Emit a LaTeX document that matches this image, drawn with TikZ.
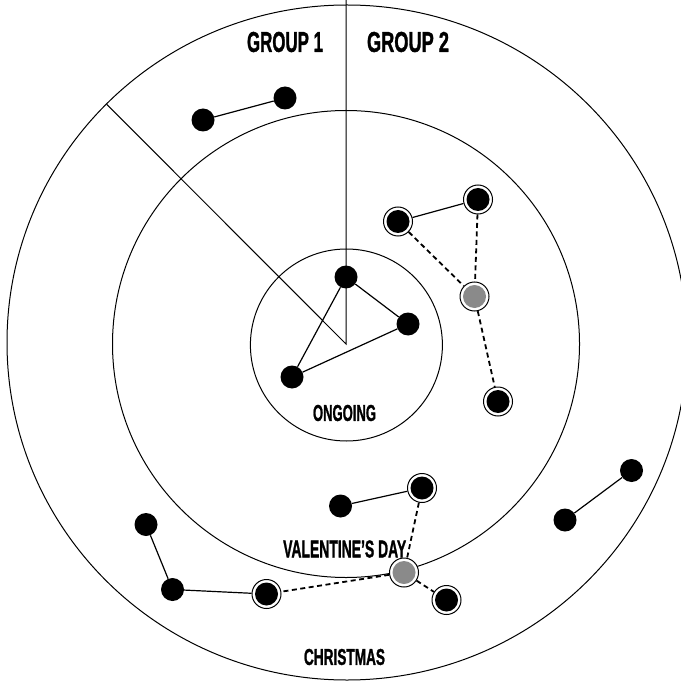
\documentclass[tikz,border=0pt]{standalone}
\usepackage{fontspec}
\setmainfont{Liberation Sans}
\newfontfamily\lblfont[BoldFeatures={FakeBold=1.6}]{Liberation Sans}
\usepackage{graphicx}
\definecolor{dotgrey}{RGB}{138,138,138}
\tikzset{
  ringline/.style={draw=black, line width=1pt},
  dot/.style={circle, fill=black, inner sep=0pt, minimum size=23pt},
  ringdot/.style={circle, draw=black, line width=1pt, fill=white, inner sep=0pt, minimum size=29pt,
    path picture={\fill[#1] (path picture bounding box.center) circle (11.5pt);}},
  ringdot/.default=black,
  link/.style={line width=1.2pt},
  dlink/.style={line width=1.8pt, dash pattern=on 5pt off 3.5pt},
  lbl/.style={inner sep=0pt, font=\lblfont\bfseries},
}
\begin{document}
\begin{tikzpicture}[x=1pt, y=-1pt]
\useasboundingbox (0,0) rectangle (680,684);
% rings
\draw[ringline] (347,342.5) ellipse [x radius=340, y radius=337.5];
\draw[ringline] (346,344) circle [radius=233.5];
\draw[ringline] (346.4,345) circle [radius=96];
% sector lines
\coordinate (ctr) at (346,344);
\coordinate (topend) at (346,0);
\coordinate (diagend) at (106.7,104.3);
\draw[ringline] (topend) -- (ctr) -- (diagend);
% nodes
\node[dot] (A) at (203,120) {};
\node[dot] (B) at (285,98) {};
\node[dot] (C) at (346,277) {};
\node[dot] (D) at (408,324) {};
\node[dot] (E) at (292,377) {};
\node[ringdot] (F) at (398,221.5) {};
\node[ringdot] (G) at (478,199.5) {};
\node[ringdot=dotgrey] (H) at (474.5,296.5) {};
\node[ringdot] (I) at (498,401.5) {};
\node[dot] (J) at (340.5,506) {};
\node[ringdot] (K) at (422,488) {};
\node[ringdot=dotgrey] (L) at (404,572.5) {};
\node[ringdot] (M) at (446.5,600) {};
\node[ringdot] (N) at (266.5,594) {};
\node[dot] (O) at (172.5,589.5) {};
\node[dot] (P) at (146,524.5) {};
\node[dot] (Q) at (565,520) {};
\node[dot] (R) at (631.5,470.5) {};
% connectors
\draw[link] (A) -- (B);
\draw[link] (C) -- (D);
\draw[link] (D) -- (E);
\draw[link] (C) -- (E);
\draw[link] (F) -- (G);
\draw[dlink] (G) -- (H);
\draw[dlink] (F) -- (H);
\draw[dlink] (H) -- (I);
\draw[link] (J) -- (K);
\draw[dlink] (K) -- (L);
\draw[dlink] (L) -- (M);
\draw[dlink] (L) -- (N);
\draw[link] (N) -- (O);
\draw[link] (O) -- (P);
\draw[link] (Q) -- (R);
% labels
\node[lbl] (g1) at (285,42) {\resizebox{76pt}{20pt}{GROUP 1}};
\node[lbl] (g2) at (408,42) {\resizebox{82pt}{20pt}{GROUP 2}};
\node[lbl] (ong) at (344.5,413) {\resizebox{63pt}{16pt}{ONGOING}};
\node[lbl] (val) at (344.7,549) {\resizebox{123pt}{17pt}{VALENTINE’S DAY}};
\node[lbl] (xmas) at (344.5,657) {\resizebox{81pt}{16pt}{CHRISTMAS}};
\end{tikzpicture}
\end{document}
